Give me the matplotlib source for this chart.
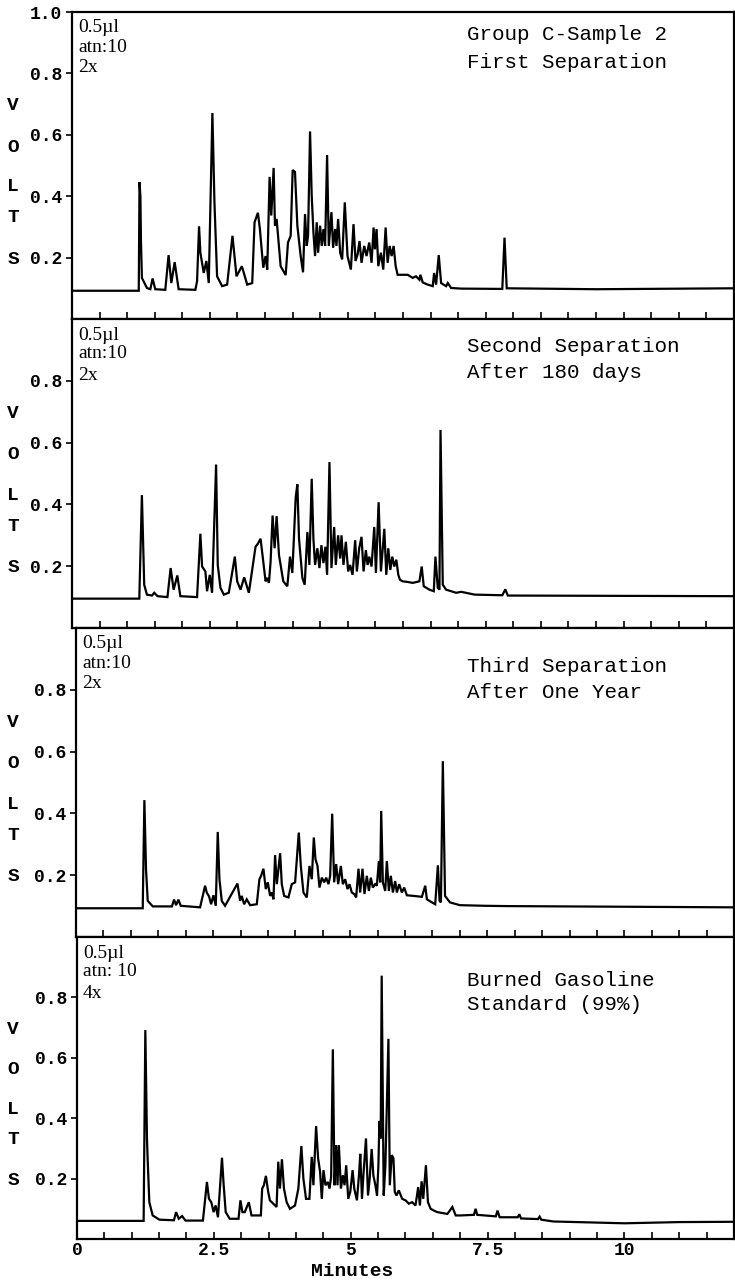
import matplotlib
matplotlib.use("Agg")
import matplotlib.pyplot as plt

# retention time (min) / detector signal (V) vertices for each run
t_first = [0, 1.21, 1.224, 1.24, 1.25, 1.267, 1.358, 1.42, 1.461, 1.509, 1.691, 1.751, 1.800, 1.861,
           1.933, 2.236, 2.267, 2.303, 2.327, 2.388, 2.436, 2.479, 2.545, 2.582, 2.630, 2.721, 2.812,
           2.909, 2.982, 3.079, 3.176, 3.267, 3.309, 3.370, 3.406, 3.467, 3.509, 3.539, 3.582, 3.612,
           3.655, 3.679, 3.709, 3.782, 3.873, 3.915, 3.964, 4.000, 4.042, 4.085, 4.145, 4.188, 4.224,
           4.255, 4.279, 4.315, 4.345, 4.376, 4.406, 4.436, 4.461, 4.497, 4.527, 4.558, 4.588, 4.624,
           4.655, 4.703, 4.733, 4.770, 4.794, 4.824, 4.861, 4.897, 4.945, 4.994, 5.055, 5.103, 5.139,
           5.176, 5.212, 5.248, 5.297, 5.339, 5.388, 5.430, 5.467, 5.491, 5.521, 5.552, 5.600, 5.642,
           5.685, 5.721, 5.758, 5.794, 5.830, 5.867, 5.903, 6.085, 6.176, 6.236, 6.297, 6.315, 6.358,
           6.448, 6.539, 6.564, 6.600, 6.648, 6.691, 6.782, 6.812, 6.873, 7.055, 7.80, 7.84, 7.88,
           9.5, 12]
v_first = [0.092, 0.092, 0.446, 0.400, 0.254, 0.134, 0.101, 0.097, 0.132, 0.097, 0.095, 0.208, 0.117,
           0.185, 0.097, 0.095, 0.123, 0.302, 0.216, 0.150, 0.189, 0.117, 0.671, 0.380, 0.139, 0.107,
           0.112, 0.271, 0.139, 0.172, 0.112, 0.117, 0.315, 0.346, 0.293, 0.167, 0.205, 0.161, 0.463,
           0.337, 0.492, 0.304, 0.326, 0.172, 0.143, 0.249, 0.271, 0.485, 0.479, 0.304, 0.205, 0.152,
           0.342, 0.238, 0.271, 0.611, 0.403, 0.282, 0.205, 0.315, 0.216, 0.304, 0.238, 0.293, 0.238,
           0.534, 0.238, 0.348, 0.232, 0.293, 0.238, 0.326, 0.216, 0.194, 0.380, 0.205, 0.161, 0.309,
           0.189, 0.210, 0.254, 0.183, 0.238, 0.205, 0.249, 0.183, 0.298, 0.227, 0.293, 0.172, 0.216,
           0.161, 0.298, 0.183, 0.238, 0.205, 0.238, 0.172, 0.144, 0.144, 0.134, 0.139, 0.128, 0.144,
           0.119, 0.112, 0.107, 0.150, 0.112, 0.208, 0.117, 0.107, 0.117, 0.101, 0.099, 0.098, 0.265,
           0.100, 0.097, 0.100]

t_second = [0, 1.22, 1.267, 1.309, 1.358, 1.45, 1.491, 1.55, 1.73, 1.788, 1.842, 1.909, 1.964, 2.267,
            2.327, 2.358, 2.418, 2.448, 2.497, 2.539, 2.612, 2.642, 2.691, 2.752, 2.842, 2.952, 2.994,
            3.055, 3.121, 3.206, 3.327, 3.370, 3.418, 3.467, 3.509, 3.539, 3.570, 3.600, 3.636, 3.673,
            3.709, 3.752, 3.830, 3.903, 3.952, 3.994, 4.055, 4.085, 4.115, 4.176, 4.218, 4.267, 4.303,
            4.345, 4.376, 4.406, 4.448, 4.485, 4.521, 4.558, 4.594, 4.624, 4.667, 4.703, 4.752, 4.782,
            4.824, 4.861, 4.885, 4.921, 4.964, 5.006, 5.042, 5.085, 5.133, 5.164, 5.206, 5.248, 5.285,
            5.327, 5.358, 5.388, 5.430, 5.479, 5.509, 5.558, 5.600, 5.661, 5.697, 5.733, 5.770, 5.806,
            5.842, 5.879, 5.915, 5.945, 5.994, 6.085, 6.176, 6.297, 6.339, 6.376, 6.479, 6.558, 6.588,
            6.630, 6.661, 6.680, 6.721, 6.782, 6.873, 6.964, 7.055, 7.30, 7.80, 7.855, 7.90, 12]
v_second = [0.095, 0.095, 0.430, 0.140, 0.108, 0.105, 0.114, 0.103, 0.100, 0.194, 0.124, 0.170, 0.103,
            0.100, 0.305, 0.199, 0.183, 0.119, 0.172, 0.114, 0.529, 0.204, 0.130, 0.108, 0.114, 0.231,
            0.151, 0.124, 0.164, 0.114, 0.263, 0.273, 0.289, 0.215, 0.151, 0.162, 0.146, 0.215, 0.364,
            0.258, 0.362, 0.236, 0.151, 0.135, 0.231, 0.178, 0.423, 0.465, 0.289, 0.162, 0.140, 0.311,
            0.204, 0.483, 0.289, 0.204, 0.258, 0.194, 0.268, 0.210, 0.263, 0.172, 0.537, 0.194, 0.327,
            0.204, 0.300, 0.225, 0.300, 0.204, 0.279, 0.183, 0.204, 0.172, 0.284, 0.183, 0.258, 0.295,
            0.183, 0.252, 0.204, 0.231, 0.199, 0.327, 0.178, 0.407, 0.183, 0.321, 0.172, 0.258, 0.188,
            0.231, 0.199, 0.221, 0.172, 0.156, 0.151, 0.149, 0.146, 0.151, 0.199, 0.135, 0.124, 0.119,
            0.231, 0.130, 0.124, 0.641, 0.140, 0.124, 0.119, 0.114, 0.117, 0.108, 0.106, 0.125, 0.105,
            0.103]

t_third = [0, 1.217, 1.247, 1.277, 1.308, 1.40, 1.75, 1.788, 1.825, 1.867, 1.910, 2.263, 2.354, 2.384,
           2.427, 2.464, 2.506, 2.549, 2.585, 2.616, 2.658, 2.719, 2.944, 2.993, 3.023, 3.066, 3.114,
           3.175, 3.297, 3.345, 3.376, 3.418, 3.461, 3.498, 3.540, 3.571, 3.601, 3.631, 3.662, 3.723,
           3.753, 3.796, 3.874, 3.935, 3.996, 4.063, 4.100, 4.148, 4.209, 4.258, 4.300, 4.337, 4.367,
           4.404, 4.440, 4.483, 4.526, 4.562, 4.605, 4.635, 4.672, 4.708, 4.745, 4.781, 4.830, 4.866,
           4.909, 4.951, 4.988, 5.030, 5.073, 5.109, 5.152, 5.182, 5.225, 5.261, 5.304, 5.341, 5.377,
           5.414, 5.456, 5.487, 5.523, 5.547, 5.566, 5.596, 5.639, 5.669, 5.706, 5.742, 5.779, 5.821,
           5.852, 5.894, 5.943, 5.985, 6.034, 6.156, 6.308, 6.369, 6.399, 6.491, 6.551, 6.600, 6.630,
           6.655, 6.690, 6.730, 6.820, 7.00, 7.46, 7.86, 12]
v_third = [0.093, 0.093, 0.443, 0.219, 0.117, 0.099, 0.099, 0.121, 0.103, 0.121, 0.101, 0.096, 0.166,
           0.144, 0.131, 0.106, 0.135, 0.101, 0.340, 0.187, 0.117, 0.101, 0.173, 0.117, 0.133, 0.106,
           0.122, 0.103, 0.106, 0.187, 0.198, 0.221, 0.155, 0.177, 0.133, 0.144, 0.122, 0.265, 0.171,
           0.271, 0.171, 0.133, 0.128, 0.171, 0.177, 0.338, 0.230, 0.144, 0.128, 0.230, 0.187, 0.322,
           0.252, 0.230, 0.160, 0.192, 0.177, 0.192, 0.171, 0.198, 0.399, 0.177, 0.236, 0.171, 0.230,
           0.171, 0.187, 0.155, 0.171, 0.144, 0.139, 0.128, 0.221, 0.144, 0.221, 0.139, 0.198, 0.149,
           0.192, 0.160, 0.171, 0.166, 0.246, 0.177, 0.408, 0.177, 0.149, 0.246, 0.149, 0.198, 0.144,
           0.181, 0.144, 0.171, 0.144, 0.160, 0.135, 0.133, 0.130, 0.166, 0.122, 0.112, 0.106, 0.232,
           0.117, 0.112, 0.569, 0.133, 0.112, 0.103, 0.101, 0.100, 0.096]

t_std = [0, 1.217, 1.248, 1.278, 1.290, 1.321, 1.382, 1.505, 1.77, 1.810, 1.859, 1.920, 1.982, 2.300,
         2.373, 2.410, 2.453, 2.495, 2.532, 2.575, 2.648, 2.679, 2.716, 2.789, 2.95, 2.985, 3.021,
         3.064, 3.138, 3.187, 3.278, 3.358, 3.382, 3.413, 3.450, 3.492, 3.523, 3.584, 3.645, 3.676,
         3.706, 3.743, 3.780, 3.829, 3.890, 3.982, 4.043, 4.098, 4.135, 4.183, 4.245, 4.287, 4.318,
         4.367, 4.404, 4.440, 4.471, 4.502, 4.538, 4.581, 4.612, 4.642, 4.673, 4.703, 4.734, 4.758,
         4.783, 4.820, 4.856, 4.887, 4.917, 4.954, 4.991, 5.034, 5.064, 5.113, 5.150, 5.174, 5.205,
         5.235, 5.278, 5.315, 5.346, 5.382, 5.413, 5.450, 5.480, 5.505, 5.523, 5.547, 5.565, 5.602,
         5.633, 5.688, 5.713, 5.749, 5.780, 5.804, 5.835, 5.878, 5.939, 6.000, 6.061, 6.122, 6.183,
         6.232, 6.263, 6.294, 6.324, 6.373, 6.410, 6.459, 6.520, 6.581, 6.673, 6.765, 6.856, 6.917,
         7.009, 7.25, 7.28, 7.31, 7.65, 7.68, 7.72, 8.05, 8.08, 8.11, 8.42, 8.45, 8.48, 8.7, 10.0,
         11.0, 12]
v_std = [0.060, 0.060, 0.692, 0.333, 0.267, 0.122, 0.078, 0.064, 0.062, 0.089, 0.067, 0.076, 0.061,
         0.061, 0.189, 0.133, 0.122, 0.089, 0.111, 0.072, 0.269, 0.178, 0.089, 0.067, 0.067, 0.128,
         0.089, 0.089, 0.122, 0.078, 0.078, 0.078, 0.167, 0.178, 0.209, 0.156, 0.128, 0.117, 0.106,
         0.256, 0.167, 0.264, 0.167, 0.122, 0.100, 0.111, 0.167, 0.308, 0.200, 0.133, 0.133, 0.272,
         0.178, 0.374, 0.267, 0.222, 0.133, 0.228, 0.178, 0.189, 0.167, 0.206, 0.628, 0.178, 0.311,
         0.178, 0.311, 0.167, 0.211, 0.178, 0.244, 0.133, 0.156, 0.228, 0.167, 0.128, 0.211, 0.282,
         0.133, 0.222, 0.333, 0.144, 0.200, 0.298, 0.211, 0.178, 0.144, 0.244, 0.391, 0.333, 0.872,
         0.144, 0.244, 0.663, 0.178, 0.278, 0.267, 0.156, 0.144, 0.161, 0.133, 0.128, 0.117, 0.122,
         0.111, 0.172, 0.111, 0.191, 0.133, 0.244, 0.122, 0.100, 0.094, 0.089, 0.086, 0.083, 0.106,
         0.078, 0.078, 0.080, 0.100, 0.080, 0.075, 0.094, 0.072, 0.072, 0.082, 0.068, 0.066, 0.074,
         0.064, 0.058, 0.052, 0.056, 0.057]

runs = [(t_first, v_first), (t_second, v_second), (t_third, v_third), (t_std, v_std)]
titles = [("Group C-Sample 2", "First Separation"),
          ("Second Separation", "After 180 days"),
          ("Third Separation", "After One Year"),
          ("Burned Gasoline", "Standard (99%)")]
settings = [("0.5µl", "atn:10", "2x"), ("0.5µl", "atn:10", "2x"),
            ("0.5µl", "atn:10", "2x"), ("0.5µl", "atn: 10", "4x")]
x_labels = {0: "0", 2.5: "2.5", 5: "5", 7.5: "7.5", 10: "10"}

W, H = 735, 1284
MONO = "Liberation Mono"
SERIF = "Liberation Serif"

# panel frames in pixels: left, top, bottom (the scanned strip is slightly skewed)
frames = [(72, 12, 319), (72, 319, 628), (76, 628, 937), (77, 937, 1239)]
RIGHT = 734
title_y = [(35, 62), (347, 373), (667, 693), (980, 1005)]

fig = plt.figure(figsize=(W / 100, H / 100), dpi=100)

for i, ((t, v), (l1, l2), notes, (left, top, bot)) in enumerate(zip(runs, titles, settings, frames)):
    ax = fig.add_axes([left / W, 1 - bot / H, (RIGHT - left) / W, (bot - top) / H])
    ax.plot(t, v, color="black", lw=1.6, solid_joinstyle="miter")
    ax.set_xlim(0, 12)
    ax.set_ylim(0, 1.0)

    yt = [0.2, 0.4, 0.6, 0.8] + ([1.0] if i == 0 else [])
    ax.set_yticks(yt)
    ax.set_yticklabels([f"{y:.1f}" for y in yt], family=MONO, fontsize=13, fontweight="bold")
    ax.tick_params(axis="y", direction="out", length=4, width=1.2, pad=3)

    xt = [k * 0.5 for k in range(0, 24)]
    ax.set_xticks(xt)
    if i == 3:
        ax.set_xticklabels([x_labels.get(x, "") for x in xt], family=MONO, fontsize=13,
                           fontweight="bold")
    else:
        ax.set_xticklabels([])
    ax.tick_params(axis="x", direction="in", length=5, width=1.2, pad=2)

    for s in ax.spines.values():
        s.set_linewidth(1.6)

    # run conditions in the upper left corner
    for note, dy in zip(notes, (16, 35, 56)):
        fig.text((left + 6) / W, 1 - (top + dy) / H, note, family=SERIF, fontsize=14,
                 ha="left", va="center")

    # sample description, upper right
    for line, ty in zip((l1, l2), title_y[i]):
        fig.text(467 / W, 1 - ty / H, line, family=MONO, fontsize=15, ha="left", va="center")

    # stacked axis title
    for ch, fy in zip("VOLTS", (0.695, 0.56, 0.43, 0.33, 0.195)):
        py = bot - fy * (bot - top)
        fig.text(13 / W, 1 - py / H, ch, family=MONO, fontsize=14, fontweight="bold",
                 ha="center", va="center")

fig.text(352 / W, 1 - 1271 / H, "Minutes", family=MONO, fontsize=14, fontweight="bold",
         ha="center", va="center")

fig.savefig("out.png", dpi=100)
plt.close(fig)
